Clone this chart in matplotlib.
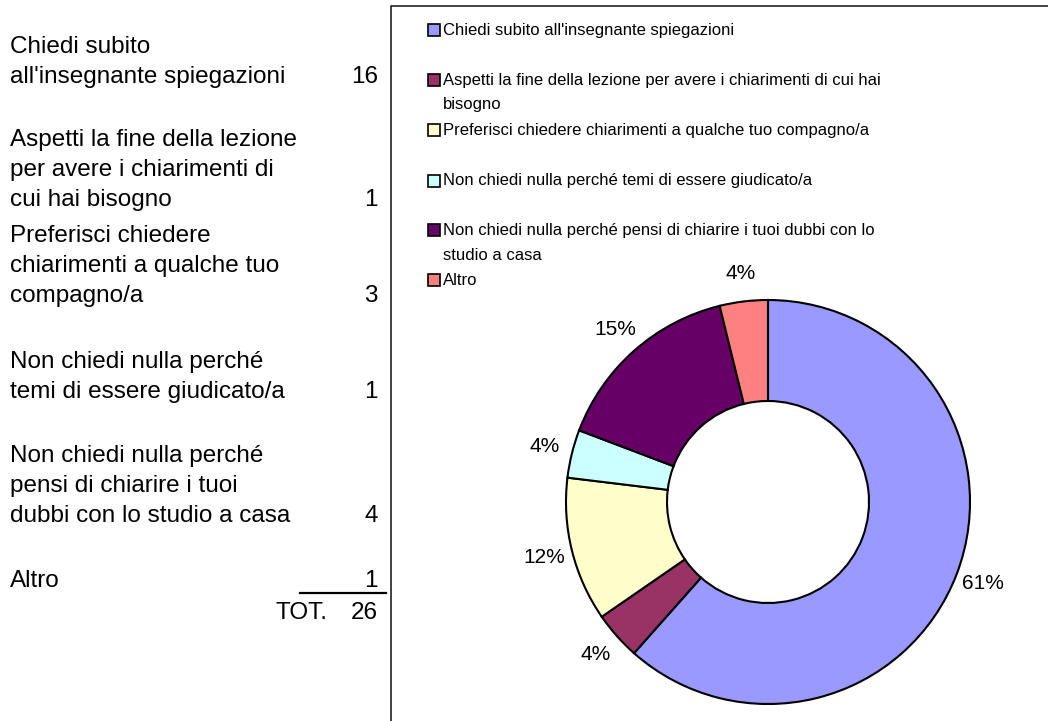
import matplotlib
matplotlib.use("Agg")
import matplotlib.pyplot as plt
from matplotlib.lines import Line2D
from matplotlib.patches import Rectangle

plt.rcParams['font.family'] = ['Liberation Sans', 'DejaVu Sans']

# data
table_labels = ["Chiedi subito\nall'insegnante spiegazioni",
                "Aspetti la fine della lezione\nper avere i chiarimenti di\ncui hai bisogno",
                "Preferisci chiedere\nchiarimenti a qualche tuo\ncompagno/a",
                "Non chiedi nulla perché\ntemi di essere giudicato/a",
                "Non chiedi nulla perché\npensi di chiarire i tuoi\ndubbi con lo studio a casa",
                "Altro"]
legend_labels = ["Chiedi subito all'insegnante spiegazioni",
                 "Aspetti la fine della lezione per avere i chiarimenti di cui hai\nbisogno",
                 "Preferisci chiedere chiarimenti a qualche tuo compagno/a",
                 "Non chiedi nulla perché temi di essere giudicato/a",
                 "Non chiedi nulla perché pensi di chiarire i tuoi dubbi con lo\nstudio a casa",
                 "Altro"]
counts = [16, 1, 3, 1, 4, 1]
pct_labels = ["61%", "4%", "12%", "4%", "15%", "4%"]
colors = ["#9999FF", "#993366", "#FFFFCC", "#CCFFFF", "#660066", "#FF8080"]

W, H = 1048, 721
fig = plt.figure(figsize=(W / 100, H / 100), dpi=100)


def fx(x):
    return x / W


def fy(y):
    return 1 - y / H


# left table
first_line_y = [47, 140, 236, 362, 456, 581]
line_h = 30
for lab, n, y0 in zip(table_labels, counts, first_line_y):
    lines = lab.split("\n")
    for i, ln in enumerate(lines):
        fig.text(fx(10), fy(y0 + i * line_h), ln, fontsize=17.5, va='center', ha='left')
    fig.text(fx(378), fy(y0 + (len(lines) - 1) * line_h), str(n), fontsize=17.5,
             va='center', ha='right')
fig.add_artist(Line2D([fx(300), fx(386)], [fy(593), fy(593)], color='black', lw=1.6))
fig.text(fx(328), fy(613), "TOT.", fontsize=17.5, va='center', ha='right')
fig.text(fx(378), fy(613), str(sum(counts)), fontsize=17.5, va='center', ha='right')

# chart area frame
fig.add_artist(Line2D([fx(391), fx(391), fx(1048)], [fy(721), fy(6), fy(6)],
                      color='#222222', lw=1.2))

# legend
legend_y = [30, 80, 130, 181, 230, 280]
for lab, c, y0 in zip(legend_labels, colors, legend_y):
    fig.add_artist(Rectangle((fx(428), fy(y0 + 6)), 12 / W, 12 / H, facecolor=c,
                             edgecolor='black', lw=1.2, transform=fig.transFigure))
    for i, ln in enumerate(lab.split("\n")):
        fig.text(fx(443), fy(y0 + i * 25), ln, fontsize=12, va='center', ha='left')

# donut
R = 202
half = 1.16 * R
ax = fig.add_axes([fx(768 - half), fy(502 + half), 2 * half / W, 2 * half / H])
wedges, texts = ax.pie(counts, labels=pct_labels, colors=colors, startangle=90,
                       counterclock=False, labeldistance=1.14,
                       wedgeprops=dict(width=0.5, edgecolor='black', linewidth=1.5),
                       textprops=dict(fontsize=15))
for t in texts:
    t.set_ha('center')
    t.set_va('center')
ax.set_xlim(-1.16, 1.16)
ax.set_ylim(-1.16, 1.16)
ax.set_aspect('equal')
ax.axis('off')

fig.savefig("out.png", dpi=100)
